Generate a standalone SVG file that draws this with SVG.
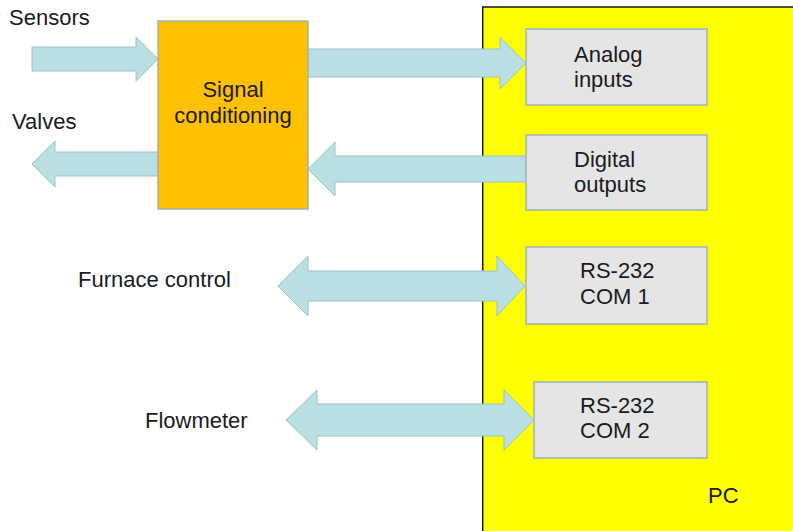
<svg xmlns="http://www.w3.org/2000/svg" width="793" height="531" viewBox="0 0 793 531">
<style>
text{font-family:"Liberation Sans",Arial,sans-serif;font-size:22px;fill:#1a1a22}
.io{fill:#e5e5e5;stroke:#9fb3b7;stroke-width:1.5}
.arr{fill:#b9dfe2;stroke:#9dc2c6;stroke-width:1}
</style>
<rect width="793" height="531" fill="#ffffff"/>
<g id="pc">
<rect x="482.7" y="7" width="320" height="540" fill="#ffff00" stroke="#1a1a1a" stroke-width="1.5"/>
<text x="708" y="503">PC</text>
</g>
<g id="connectors">
<polygon class="arr" points="32,47 136,47 136,37 158,59 136,81 136,71 32,71"/>
<polygon class="arr" points="308,49 500,49 500,37 526,63 500,89 500,77 308,77"/>
<polygon class="arr" points="526,156 335,156 335,142 308,169 335,196 335,182 526,182"/>
<polygon class="arr" points="158,152 55,152 55,141 32,164 55,187 55,176 158,176"/>
<polygon class="arr" points="278,286 308,256 308,271 497,271 497,256 525,286 497,316 497,301 308,301 308,316"/>
<polygon class="arr" points="286,420 317,390 317,404 504,404 504,390 534,420 504,450 504,436 317,436 317,450"/>
</g>
<g id="signal">
<rect x="158" y="21" width="150" height="188" fill="#ffc000" stroke="#a3b3b3" stroke-width="1.5"/>
<text x="233" y="97" text-anchor="middle">Signal</text>
<text x="233" y="123" text-anchor="middle">conditioning</text>
</g>
<g id="analog">
<rect class="io" x="526" y="29" width="181" height="76"/>
<text x="574" y="62">Analog</text>
<text x="574" y="87">inputs</text>
</g>
<g id="digital">
<rect class="io" x="526" y="135" width="181" height="75"/>
<text x="574" y="167">Digital</text>
<text x="574" y="192">outputs</text>
</g>
<g id="com1">
<rect class="io" x="526" y="247" width="181" height="77"/>
<text x="580" y="278">RS-232</text>
<text x="580" y="304">COM 1</text>
</g>
<g id="com2">
<rect class="io" x="534" y="382" width="173" height="76"/>
<text x="580" y="413">RS-232</text>
<text x="580" y="438">COM 2</text>
</g>
<g id="sensors"><text x="9" y="25">Sensors</text></g>
<g id="valves"><text x="12" y="129">Valves</text></g>
<g id="furnace"><text x="78" y="287">Furnace control</text></g>
<g id="flowmeter"><text x="145" y="428">Flowmeter</text></g>
</svg>
